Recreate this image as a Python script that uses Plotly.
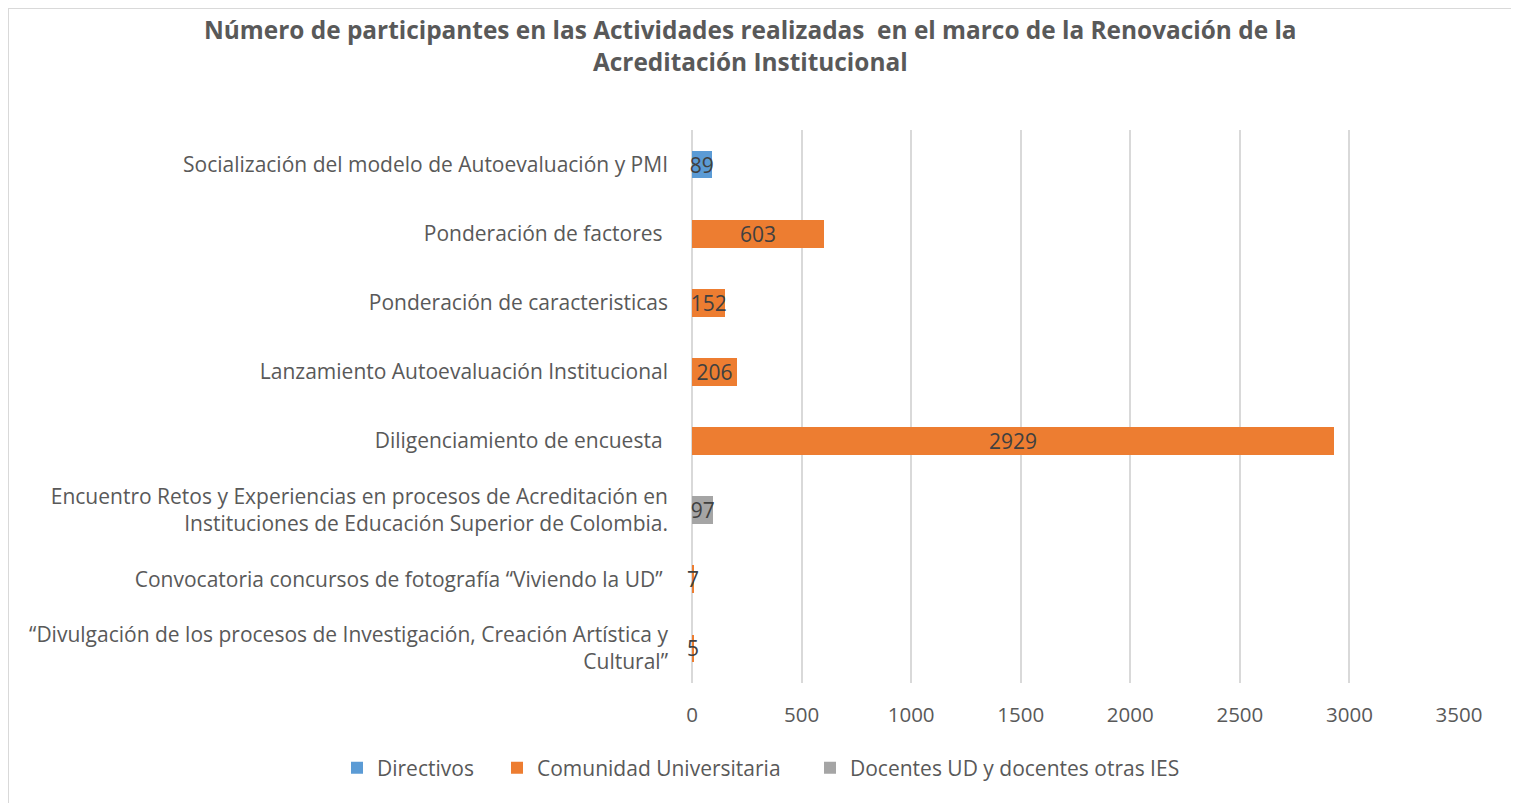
import plotly.graph_objects as go

categories = [
    "Socialización del modelo de Autoevaluación y PMI",
    "Ponderación de factores ",
    "Ponderación de caracteristicas",
    "Lanzamiento Autoevaluación Institucional",
    "Diligenciamiento de encuesta ",
    "Encuentro Retos y Experiencias en procesos de Acreditación en<br>Instituciones de Educación Superior de Colombia.",
    "Convocatoria concursos de fotografía “Viviendo la UD” ",
    "“Divulgación de los procesos de Investigación, Creación Artística y<br>Cultural”",
]
directivos = [89, None, None, None, None, None, None, None]
comunidad = [None, 603, 152, 206, 2929, None, 7, 5]
docentes = [None, None, None, None, None, 97, None, None]

series = [
    ("Directivos", directivos, "#5b9bd5", 115),
    ("Comunidad Universitaria", comunidad, "#ed7d31", 268),
    ("Docentes UD y docentes otras IES", docentes, "#a5a5a5", 330),
]

FONT = "Open Sans"
TXT = "#595959"

W, H = 1511, 795
L, R, T, B = 684, 1451, 122, 675
pw, ph = R - L, B - T

fig = go.Figure()
for name, vals, color, lw in series:
    fig.add_trace(go.Bar(
        y=categories, x=vals, name=name, orientation="h",
        marker=dict(color=color, line=dict(width=0)),
        text=[("" if v is None else str(v)) for v in vals],
        textposition="inside", insidetextanchor="middle",
        textfont=dict(family=FONT, size=21, color="#404040"),
        cliponaxis=False, width=0.4, legendwidth=lw,
    ))

fig.add_shape(type="rect", xref="paper", yref="paper",
              x0=(0 - L) / pw, x1=(1505 - L) / pw,
              y0=(B - 805) / ph, y1=(B - 0) / ph,
              line=dict(color="#d9d9d9", width=2), fillcolor="rgba(0,0,0,0)", layer="below")

fig.add_annotation(
    text="<b>Número de participantes en las Actividades realizadas  en el marco de la Renovación de la<br>Acreditación Institucional</b>",
    xref="paper", yref="paper", x=(742 - L) / pw, y=(B - 37) / ph,
    xanchor="center", yanchor="middle", showarrow=False,
    font=dict(family=FONT, size=24.4, color=TXT),
)

fig.update_layout(
    width=W, height=H,
    barmode="stack",
    margin=dict(l=L, r=W - R, t=T, b=H - B, autoexpand=False),
    paper_bgcolor="white", plot_bgcolor="white",
    uniformtext=dict(minsize=21, mode="show"),
    legend=dict(orientation="h", xref="paper", yref="paper",
                x=(347 - 18 - L) / pw, xanchor="left", y=-(760 - B) / ph, yanchor="middle",
                font=dict(family=FONT, size=21, color=TXT), itemwidth=30,
                traceorder="normal"),
    font=dict(family=FONT, color=TXT),
    xaxis=dict(range=[0, 3500], dtick=500, showgrid=True, gridcolor="#d9d9d9", gridwidth=2,
               zeroline=True, zerolinecolor="#d9d9d9", zerolinewidth=2,
               tickfont=dict(family=FONT, size=20.5, color=TXT), ticks="", showline=False,
               ticklabelstandoff=17),
    yaxis=dict(autorange="reversed", tickfont=dict(family=FONT, size=21, color=TXT),
               ticks="", ticklabelstandoff=23, showline=False),
)

fig.write_html("out.html")
